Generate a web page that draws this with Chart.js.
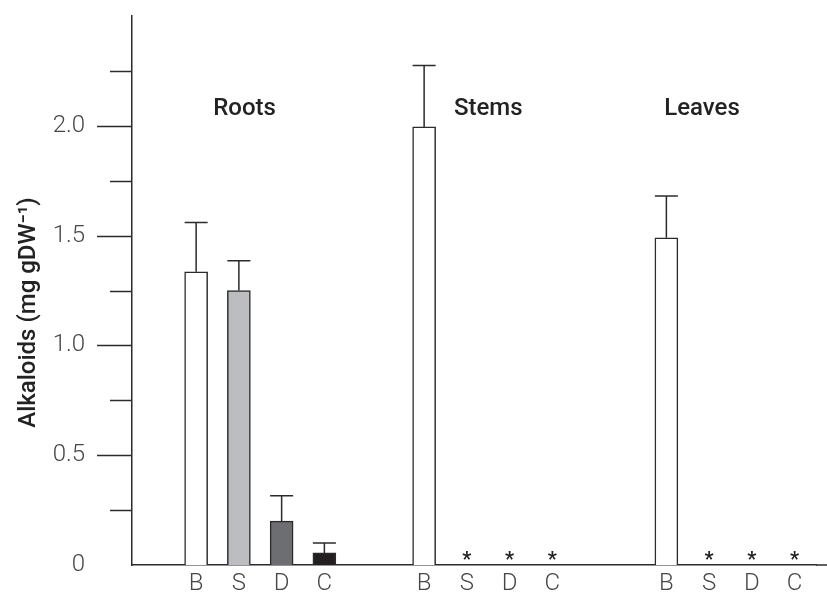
<!DOCTYPE html>
<html>
<head>
<meta charset="utf-8">
<script src="https://cdn.jsdelivr.net/npm/chart.js@4.4.1/dist/chart.umd.min.js"></script>
<style>
  html, body { margin: 0; padding: 0; background: #fff; }
</style>
</head>
<body>
<canvas id="chart-alkaloids" width="827" height="592"></canvas>
<script>
// organs and treatments
const organs = ['Roots', 'Stems', 'Leaves'];
const treatments = ['B', 'S', 'D', 'C'];

// alkaloid content (mg gDW-1), 0 = not detected (*)
const rootMeans = [1.335, 1.25, 0.2, 0.055];
const rootErrors = [0.225, 0.135, 0.115, 0.045];
const stemMeans = [1.995, 0, 0, 0];
const stemErrors = [0.28, 0, 0, 0];
const leafMeans = [1.49, 0, 0, 0];
const leafErrors = [0.19, 0, 0, 0];

const yTickLabels = ['0', '0.5', '1.0', '1.5', '2.0'];

const barColors = ['#ffffff', '#bcbdc1', '#6d6e72', '#231f20'];
const inkColor = '#2b2b2b';
const textColor = '#474747';

// slot layout on the category axis
const groupStart = [4, 20, 37];
const slotStep = 3;
const totalSlots = 48;
const titleShift = [3.4, 4.5, 2.5];

const groupData = [
    { means: rootMeans, errors: rootErrors },
    { means: stemMeans, errors: stemErrors },
    { means: leafMeans, errors: leafErrors }
];

const labels = new Array(totalSlots).fill('');
const values = new Array(totalSlots).fill(null);
const errors = new Array(totalSlots).fill(null);
const colors = new Array(totalSlots).fill('#ffffff');
const notDetected = new Array(totalSlots).fill(false);

groupData.forEach((group, gi) => {
    treatments.forEach((t, ti) => {
        const idx = groupStart[gi] + ti * slotStep;
        labels[idx] = t;
        colors[idx] = barColors[ti];
        if (group.means[ti] > 0) {
            values[idx] = group.means[ti];
            errors[idx] = group.errors[ti];
        } else {
            notDetected[idx] = true;
        }
    });
});

const extrasPlugin = {
    id: 'extras',
    afterDatasetsDraw(chart) {
        const { ctx, scales: { x, y } } = chart;
        const meta = chart.getDatasetMeta(0);
        ctx.save();

        // error bars
        ctx.strokeStyle = inkColor;
        ctx.lineWidth = 1.5;
        meta.data.forEach((bar, i) => {
            if (values[i] === null) return;
            const top = y.getPixelForValue(values[i] + errors[i]);
            const half = bar.width / 2;
            ctx.beginPath();
            ctx.moveTo(bar.x, bar.y);
            ctx.lineTo(bar.x, top);
            ctx.moveTo(bar.x - half, top);
            ctx.lineTo(bar.x + half, top);
            ctx.stroke();
        });

        // y tick marks, long on labelled ticks
        y.ticks.forEach((tick) => {
            if (tick.value <= 0 || tick.value >= y.max) return;
            const py = Math.round(y.getPixelForValue(tick.value)) + 0.5;
            const len = tick.label !== '' ? 35 : 22;
            ctx.beginPath();
            ctx.moveTo(x.left - len, py);
            ctx.lineTo(x.left, py);
            ctx.stroke();
        });

        // baseline runs on to the right edge
        const base = y.getPixelForValue(0);
        ctx.beginPath();
        ctx.moveTo(x.right, base);
        ctx.lineTo(chart.width, base);
        ctx.stroke();

        // not detected marks
        ctx.fillStyle = '#222';
        ctx.font = 'bold 20px Roboto';
        ctx.textAlign = 'center';
        ctx.textBaseline = 'alphabetic';
        notDetected.forEach((flag, i) => {
            if (!flag) return;
            ctx.fillText('*', x.getPixelForValue(i), base + 1);
        });

        // organ titles
        ctx.font = '500 24px Roboto';
        ctx.fillStyle = '#222';
        organs.forEach((name, gi) => {
            const px = x.getPixelForValue(groupStart[gi] + titleShift[gi]);
            ctx.fillText(name, px, y.getPixelForValue(2.05));
        });

        // y axis title
        ctx.translate(29, (y.top + y.bottom) / 2 + 22);
        ctx.rotate(-Math.PI / 2);
        ctx.textBaseline = 'middle';
        ctx.fillText('Alkaloids (mg gDW\u207B\u00B9)', 0, 0);

        ctx.restore();
    }
};

const tickFont = { family: 'Roboto', size: 24, weight: '300' };

const config = {
    type: 'bar',
    data: {
        labels: labels,
        datasets: [{
            data: values,
            backgroundColor: colors,
            borderColor: inkColor,
            borderWidth: 1.5,
            barThickness: 23
        }]
    },
    options: {
        responsive: false,
        animation: false,
        devicePixelRatio: 1,
        layout: { padding: { top: 16, right: 11, left: 0, bottom: 0 } },
        plugins: { legend: { display: false }, tooltip: { enabled: false } },
        scales: {
            x: {
                offset: true,
                grid: { display: false, drawTicks: true, tickLength: 5 },
                border: { display: true, color: inkColor, width: 1.5 },
                ticks: {
                    autoSkip: false, maxRotation: 0, minRotation: 0,
                    padding: 0, font: tickFont, color: textColor
                },
                afterFit: (scale) => { scale.height = 27; }
            },
            y: {
                min: 0,
                max: 2.5,
                grid: { display: false, drawTicks: true, tickLength: 47 },
                border: { display: true, color: inkColor, width: 1.5 },
                ticks: {
                    stepSize: 0.25,
                    autoSkip: false,
                    padding: 0,
                    font: tickFont,
                    color: textColor,
                    callback: (v) => {
                        const k = Math.round(v / 0.5);
                        return Math.abs(v - k * 0.5) < 1e-6 && k < yTickLabels.length ? yTickLabels[k] : '';
                    }
                },
                afterFit: (scale) => { scale.width = 132; }
            }
        }
    },
    plugins: [extrasPlugin]
};

const chartDom = document.querySelector('#chart-alkaloids');
new Chart(chartDom, config);
</script>
</body>
</html>
